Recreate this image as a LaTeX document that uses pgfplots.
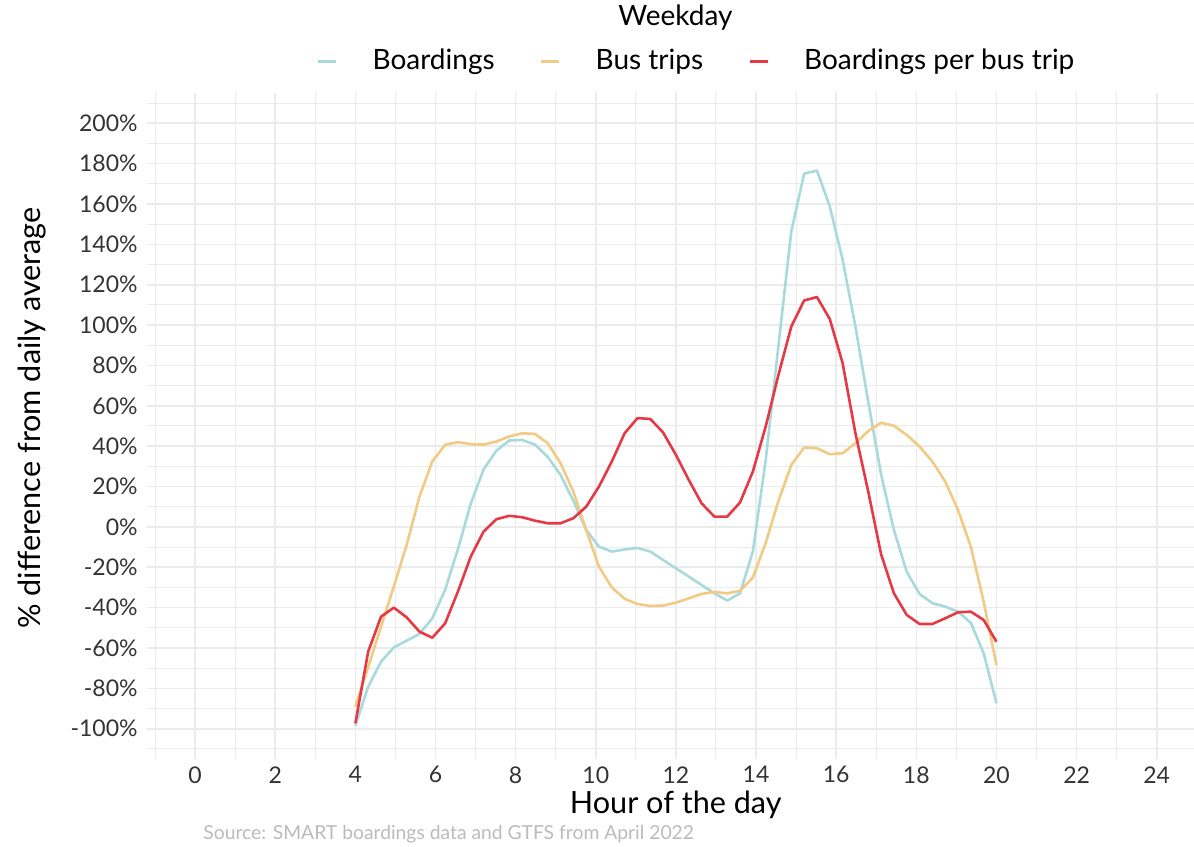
\documentclass[border=0pt]{standalone}
\usepackage{fontspec}
\setmainfont{Lato}
\usepackage{pgfplots}
\pgfplotsset{compat=1.18}
\usepackage{pgfplotstable}
\definecolor{cboard}{HTML}{A8DADC}
\definecolor{ctrips}{HTML}{F1CA84}
\definecolor{cper}{HTML}{E63946}
\definecolor{gridc}{HTML}{EBEBEB}
\definecolor{capc}{HTML}{BBBBBB}

\pgfplotstableread{
x board trips per
4.00 -98.5 -89.1 -97.3
4.32 -79.2 -69.5 -61.8
4.64 -66.8 -49.5 -44.5
4.96 -59.7 -29.5 -40.0
5.28 -56.4 -9.0 -44.8
5.60 -53.0 15.0 -51.9
5.92 -45.3 32.4 -54.9
6.24 -31.2 40.7 -47.8
6.56 -11.0 42.0 -32.0
6.88 11.5 41.0 -14.7
7.20 28.5 40.8 -2.3
7.52 37.8 42.3 3.8
7.84 42.8 44.8 5.5
8.16 43.1 46.4 4.8
8.48 40.8 46.1 3.1
8.80 34.7 41.5 1.8
9.12 25.8 31.6 1.8
9.44 13.0 17.5 4.3
9.76 -1.5 -1.5 10.0
10.08 -9.8 -19.7 20.0
10.40 -12.2 -30.0 32.4
10.72 -11.2 -35.6 46.4
11.04 -10.4 -38.2 53.9
11.36 -12.2 -39.2 53.5
11.68 -16.4 -39.0 46.8
12.00 -20.5 -37.5 35.7
12.32 -24.6 -35.4 23.3
12.64 -28.8 -33.2 11.7
12.96 -32.9 -32.2 5.1
13.28 -36.5 -32.9 5.1
13.60 -32.9 -31.7 12.1
13.92 -12.2 -25.1 27.4
14.24 33.0 -8.0 49.7
14.56 90.0 13.0 75.4
14.88 146.4 30.7 99.3
15.20 175.0 39.3 112.2
15.52 176.6 39.0 113.9
15.84 158.8 36.0 103.0
16.16 132.4 36.5 81.2
16.48 99.3 41.5 46.4
16.80 62.0 47.5 17.5
17.12 26.0 51.6 -13.5
17.44 -1.5 50.1 -32.9
17.76 -22.2 45.6 -43.6
18.08 -33.2 39.8 -48.1
18.40 -37.8 32.4 -48.1
18.72 -39.5 22.5 -45.3
19.04 -42.0 8.4 -42.3
19.36 -47.5 -9.8 -42.0
19.68 -62.6 -37.0 -46.1
20.00 -87.4 -68.4 -56.9
}\data

\begin{document}
\begin{tikzpicture}
\begin{axis}[
  at={(73.5pt,43.5pt)}, anchor=south west,
  scale only axis, width=523.5pt, height=333pt,
  xmin=-1.2, xmax=24.93, ymin=-115, ymax=215,
  xtick={0,2,...,24},
  xticklabels={0,2,4,6,8,10,12,14,16,18,20,22,24},
  minor xtick={-1,1,...,25},
  ytick={-100,-80,...,200},
  yticklabels={-100\%,-80\%,-60\%,-40\%,-20\%,0\%,20\%,40\%,60\%,80\%,100\%,120\%,140\%,160\%,180\%,200\%},
  minor ytick={-110,-90,...,210},
  grid=both,
  major grid style={gridc, line width=0.8pt},
  minor grid style={gridc, line width=0.5pt},
  axis line style={draw=none},
  major tick length=0pt, minor tick length=0pt,
  tick label style={font=\fontsize{11.5}{13}\selectfont, text=black!80},
  xticklabel style={inner sep=0pt, anchor=north, yshift=-3.5pt},
  yticklabel style={inner sep=0pt, anchor=east, xshift=-4.5pt},
  xlabel={Hour of the day},
  ylabel={\% difference from daily average},
  label style={font=\fontsize{15.3}{18}\selectfont, text=black},
  xlabel style={at={(axis description cs:0.505,-0.0811)}, anchor=base, inner sep=0pt},
  ylabel style={at={(axis description cs:-0.1017,0.512)}, anchor=base, inner sep=0pt},
  legend columns=3,
  legend style={at={(axis description cs:0.5239,1.048)}, anchor=center,
    draw=none, fill=none, font=\fontsize{14}{16}\selectfont,
    nodes={inner sep=0pt},
    /tikz/every odd column/.append style={column sep=17.5pt},
    /tikz/every even column/.append style={column sep=22.5pt}},
  legend image code/.code={\draw[#1, line width=1.5pt] (0pt,0pt) -- (9pt,0pt);},
  every axis plot/.append style={line width=1.3pt, line join=round},
]
\addplot[cboard, no marks] table[x=x, y=board] {\data};
\addlegendentry{Boardings}
\addplot[ctrips, no marks] table[x=x, y=trips] {\data};
\addlegendentry{Bus trips}
\addplot[cper, no marks] table[x=x, y=per] {\data};
\addlegendentry{Boardings per bus trip}
\end{axis}
\node[font=\fontsize{14}{16}\selectfont, anchor=base] at (337.75pt,410pt) {Weekday};
\node[font=\fontsize{9.65}{12}\selectfont, text=capc, anchor=base west, inner sep=0pt] at (101.5pt,3pt) {Source: SMART boardings data and GTFS from April 2022};
\pgfresetboundingbox
\path[use as bounding box] (0pt,0pt) rectangle (597pt,423pt);
\end{tikzpicture}
\end{document}
